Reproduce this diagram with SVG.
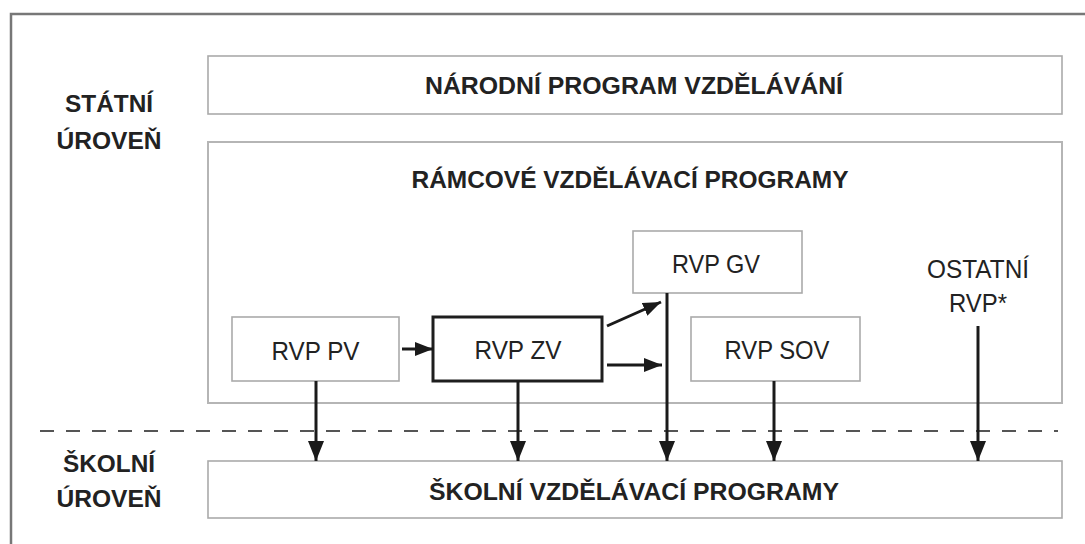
<svg xmlns="http://www.w3.org/2000/svg" width="1085" height="544" viewBox="0 0 1085 544">
<style>
.box{fill:#fff;stroke:#aaa;stroke-width:1.6}
.frame{fill:none;stroke:#b5b5b5;stroke-width:2}
.thick{fill:#fff;stroke:#1e1e1e;stroke-width:3}
.t{font-family:"Liberation Sans",Arial,sans-serif;font-size:26px;fill:#222;text-anchor:middle}
.b{font-weight:bold;font-size:24.5px}
.arr{fill:none;stroke:#1a1a1a;stroke-width:3}
</style>
<defs>
<marker id="ah" markerUnits="userSpaceOnUse" viewBox="0 0 20 16" refX="20" refY="8" markerWidth="20" markerHeight="16" orient="auto">
<path d="M0,0 L20,8 L0,16 Z" fill="#1a1a1a"/>
</marker>
<marker id="ahs" markerUnits="userSpaceOnUse" viewBox="0 0 18 14" refX="18" refY="7" markerWidth="18" markerHeight="14" orient="auto">
<path d="M0,0 L18,7 L0,14 Z" fill="#1a1a1a"/>
</marker>
</defs>
<rect width="1085" height="544" fill="#fff"/>
<path d="M1085,14 H11 V544" fill="none" stroke="#777" stroke-width="2.5"/>
<g id="label-statni"><text class="t b" x="109" y="112" textLength="88" lengthAdjust="spacingAndGlyphs">STÁTNÍ</text><text class="t b" x="109" y="149" textLength="105" lengthAdjust="spacingAndGlyphs">ÚROVEŇ</text></g>
<g id="label-skolni"><text class="t b" x="109" y="472" textLength="92" lengthAdjust="spacingAndGlyphs">ŠKOLNÍ</text><text class="t b" x="109" y="507" textLength="105" lengthAdjust="spacingAndGlyphs">ÚROVEŇ</text></g>
<line x1="40" y1="431" x2="1058" y2="431" stroke="#555" stroke-width="2" stroke-dasharray="14 12"/>
<g id="npv"><rect class="box" x="208" y="56" width="854" height="58"/><text class="t b" x="634" y="94" textLength="418" lengthAdjust="spacingAndGlyphs">NÁRODNÍ PROGRAM VZDĚLÁVÁNÍ</text></g>
<g id="rvp"><rect class="frame" x="208" y="142" width="854" height="261"/><text class="t b" x="630" y="188" textLength="437" lengthAdjust="spacingAndGlyphs">RÁMCOVÉ VZDĚLÁVACÍ PROGRAMY</text></g>
<g id="rvp-pv"><rect class="box" x="232" y="317" width="167" height="64"/><text class="t" x="315.5" y="360" textLength="88" lengthAdjust="spacingAndGlyphs">RVP PV</text></g>
<g id="rvp-zv"><rect class="thick" x="433" y="317" width="169" height="64"/><text class="t" x="518" y="359" textLength="87" lengthAdjust="spacingAndGlyphs">RVP ZV</text></g>
<g id="rvp-gv"><rect class="box" x="633" y="231" width="169" height="62"/><text class="t" x="716" y="273" textLength="88" lengthAdjust="spacingAndGlyphs">RVP GV</text></g>
<g id="rvp-sov"><rect class="box" x="691" y="317" width="169" height="64"/><text class="t" x="777" y="359" textLength="105" lengthAdjust="spacingAndGlyphs">RVP SOV</text></g>
<g id="ostatni"><text class="t" x="978" y="278" textLength="102" lengthAdjust="spacingAndGlyphs">OSTATNÍ</text><text class="t" x="978" y="312" textLength="58" lengthAdjust="spacingAndGlyphs">RVP*</text></g>
<g id="svp"><rect class="box" x="208" y="461" width="854" height="57"/><text class="t b" x="634" y="500" textLength="410" lengthAdjust="spacingAndGlyphs">ŠKOLNÍ VZDĚLÁVACÍ PROGRAMY</text></g>
<g id="connectors">
<line class="arr" x1="402" y1="349" x2="433" y2="349" marker-end="url(#ahs)"/>
<line class="arr" x1="607" y1="326" x2="661" y2="302" marker-end="url(#ahs)"/>
<line class="arr" x1="607" y1="365" x2="662" y2="365" marker-end="url(#ahs)"/>
<line class="arr" x1="316" y1="381" x2="316" y2="461" marker-end="url(#ah)"/>
<line class="arr" x1="518" y1="381" x2="518" y2="461" marker-end="url(#ah)"/>
<line class="arr" x1="667" y1="293" x2="667" y2="461" marker-end="url(#ah)"/>
<line class="arr" x1="774" y1="381" x2="774" y2="461" marker-end="url(#ah)"/>
<line class="arr" x1="978" y1="326" x2="978" y2="461" marker-end="url(#ah)"/>
</g>
</svg>
